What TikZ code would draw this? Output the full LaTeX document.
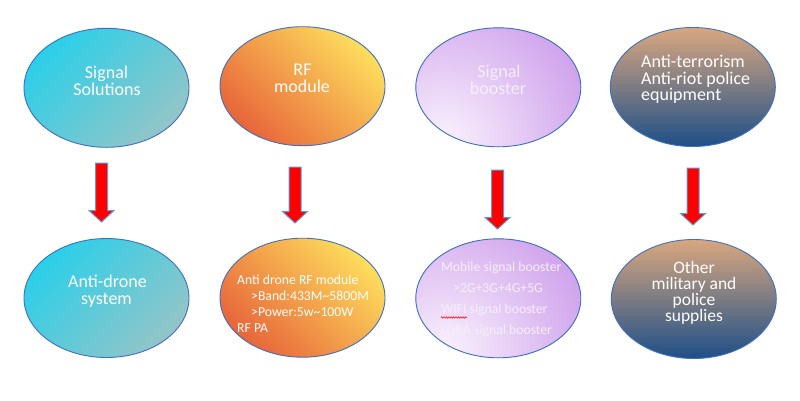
\documentclass[tikz,border=0pt]{standalone}
\usepackage{fontspec}
\setmainfont{Carlito}
\usetikzlibrary{shapes.geometric,decorations.pathmorphing}
\definecolor{edgeblue}{HTML}{3F6FC0}
\definecolor{arrowedge}{HTML}{5B9BD5}
\definecolor{cyanA}{HTML}{2BCFE9}
\definecolor{cyanB}{HTML}{93C5C7}
\definecolor{orangeY}{HTML}{FDDD5C}
\definecolor{orangeM}{HTML}{F4A64A}
\definecolor{orangeR}{HTML}{E8653A}
\definecolor{purpleB}{HTML}{C58FE8}
\definecolor{purpleL}{HTML}{FAF2FD}
\definecolor{navyT}{HTML}{D9A77E}
\definecolor{navyM}{HTML}{7D8CA2}
\definecolor{navyB}{HTML}{1E4F88}
\definecolor{lavtext}{HTML}{F6EEFB}
\newcommand\barrow[2]{\draw[blockarrow] ([xshift=-6pt]#1) -- ([xshift=6pt]#1) -- ([xshift=6pt,yshift=11.5pt]#2) -- ([xshift=12.5pt,yshift=11.5pt]#2) -- (#2) -- ([xshift=-12.5pt,yshift=11.5pt]#2) -- ([xshift=-6pt,yshift=11.5pt]#2) -- cycle;}
\begin{document}
\begin{tikzpicture}[x=1pt,y=-1pt,
  ell/.style={ellipse, draw=edgeblue, line width=0.9pt, minimum width=165pt, minimum height=119pt, inner sep=0pt},
  cyanfill/.style={path picture={\shade[top color=cyanA, bottom color=cyanB, shading angle=45] (path picture bounding box.south west) rectangle (path picture bounding box.north east);}},
  orangefill/.style={path picture={\shade[top color=orangeY, middle color=orangeM, bottom color=orangeR, shading angle=-45] (path picture bounding box.south west) rectangle (path picture bounding box.north east);}},
  purplefill/.style={fill=purpleB, path picture={\shade[inner color=purpleL, outer color=purpleB] ([shift={(-55,55)}]path picture bounding box.center) circle (190pt);}},
  navyfill/.style={path picture={\shade[top color=navyT, middle color=navyM, bottom color=navyB] (path picture bounding box.south west) rectangle (path picture bounding box.north east);}},
  big/.style={text=white, font=\fontsize{18}{16}\selectfont, inner sep=0pt, anchor=base, text height=10pt, text depth=1pt},
  bigl/.style={big, anchor=base west},
  small/.style={text=white, font=\fontsize{13.7}{16}\selectfont, inner sep=0pt, anchor=base west, text height=8pt, text depth=1pt},
  blockarrow/.style={draw=arrowedge, line width=1pt, fill=red, line join=miter}]
\useasboundingbox[fill=white] (0,0) rectangle (800,400);

% top row
\node[ell, cyanfill] (t1) at (106.5,87.8) {};
\node[ell, orangefill] (t2) at (302.5,86.2) {};
\node[ell, purplefill] (t3) at (498.3,87.3) {};
\node[ell, navyfill] (t4) at (692.8,87) {};
% bottom row
\node[ell, cyanfill] (b1) at (106.5,298) {};
\node[ell, orangefill] (b2) at (302.5,297.7) {};
\node[ell, purplefill] (b3) at (498.3,298.3) {};
\node[ell, navyfill] (b4) at (693.8,299) {};

% texts top
\node[big] (t1a) at (106.5,78.5) {Signal};
\node[big] (t1b) at (107,95.1) {Solutions};
\node[big] (t2a) at (302.5,75) {RF};
\node[big] (t2b) at (302,92.7) {module};
\node[big, text=lavtext] (t3a) at (499,77.7) {Signal};
\node[big, text=lavtext] (t3b) at (498,94.3) {booster};
\node[bigl] (t4a) at (641,67.7) {Anti-terrorism};
\node[bigl] (t4b) at (641,84.3) {Anti-riot police};
\node[bigl] (t4c) at (641,100.9) {equipment};

% texts bottom
\node[big] (b1a) at (107.5,287.7) {Anti-drone};
\node[big] (b1b) at (106.5,304.4) {system};
\node[small] (b2a) at (237,284) {Anti drone RF module};
\node[small] (b2b) at (251,300) {>Band:433M\textasciitilde5800M};
\node[small] (b2c) at (251,316) {>Power:5w\textasciitilde100W};
\node[small] (b2d) at (237,332) {RF PA};
\node[small, text=lavtext] (b3a) at (441,271.7) {Mobile signal booster};
\node[small, text=lavtext] (b3b) at (453,292.3) {>2G+3G+4G+5G};
\node[small, text=lavtext] (b3c) at (441,313.3) {WIFI signal booster};
\node[small, text=lavtext] (b3d) at (441,334) {LORA signal booster};
\node[text=white, font=\fontsize{17.5}{16.2}\selectfont, inner sep=0pt, align=center] (b4t) at (694,293) {Other\\military and\\police\\supplies};

% spell-check underline
\coordinate (w1) at (441,317.5);
\coordinate (w2) at (467,317.5);
\draw[red, line width=0.5pt, decorate, decoration={zigzag, amplitude=0.8pt, segment length=2.4pt}] (w1) -- (w2);

% arrows
\coordinate (s1) at (101.5,163); \coordinate (e1) at (101.5,222);
\coordinate (s2) at (295,167);   \coordinate (e2) at (295,223);
\coordinate (s3) at (497.5,170); \coordinate (e3) at (497.5,229);
\coordinate (s4) at (693,168);   \coordinate (e4) at (693,225);
\barrow{s1}{e1}
\barrow{s2}{e2}
\barrow{s3}{e3}
\barrow{s4}{e4}
\end{tikzpicture}
\end{document}
